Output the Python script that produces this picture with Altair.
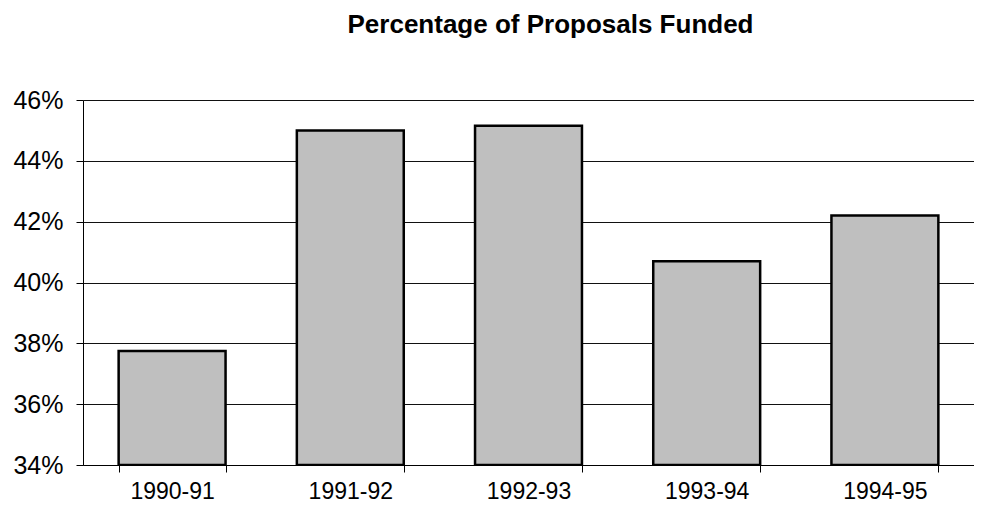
import altair as alt
import pandas as pd

years = ["1990-91", "1991-92", "1992-93", "1993-94", "1994-95"]
funded = [0.3775, 0.4500, 0.4515, 0.4070, 0.4220]
baseline = 0.34
y_ticks = [0.34, 0.36, 0.38, 0.40, 0.42, 0.44, 0.46]

df = pd.DataFrame({"year": years, "funded": funded, "base": [baseline] * len(years)})

FONT = "Liberation Sans"

chart = (
    alt.Chart(df)
    .mark_bar(fill="#bfbfbf", stroke="#000000", strokeWidth=2.5, clip=True)
    .encode(
        x=alt.X(
            "year:N",
            sort=years,
            title=None,
            scale=alt.Scale(paddingInner=0.4, paddingOuter=0.2),
            axis=alt.Axis(
                labelAngle=0,
                labelFont=FONT,
                labelFontSize=23,
                labelColor="#000000",
                labelPadding=8,
                domainColor="#000000",
                domainWidth=1,
                tickColor="#000000",
                tickSize=7,
                tickBand="extent",
                grid=False,
            ),
        ),
        y=alt.Y(
            "funded:Q",
            title=None,
            scale=alt.Scale(domain=[0.34, 0.46], zero=False, nice=False),
            axis=alt.Axis(
                values=y_ticks,
                format=".0%",
                labelFont=FONT,
                labelFontSize=25,
                labelColor="#000000",
                labelPadding=13,
                domainColor="#000000",
                domainWidth=1,
                tickColor="#000000",
                tickSize=7,
                gridColor="#111111",
                gridWidth=1,
                gridOpacity=1,
            ),
        ),
        y2="base:Q",
    )
    .properties(
        width=891,
        height=365,
        autosize=alt.AutoSizeParams(type="none"),
        padding={"left": 75, "top": 92, "right": 0, "bottom": 41},
        title=alt.TitleParams(
            "Percentage of Proposals Funded",
            font=FONT,
            fontSize=26,
            fontWeight="bold",
            color="#000000",
            anchor="middle",
            dx=22,
            offset=50,
        ),
    )
    .configure_view(stroke=None)
)

chart.save("out.html", embed_options={"renderer": "svg", "actions": False})
